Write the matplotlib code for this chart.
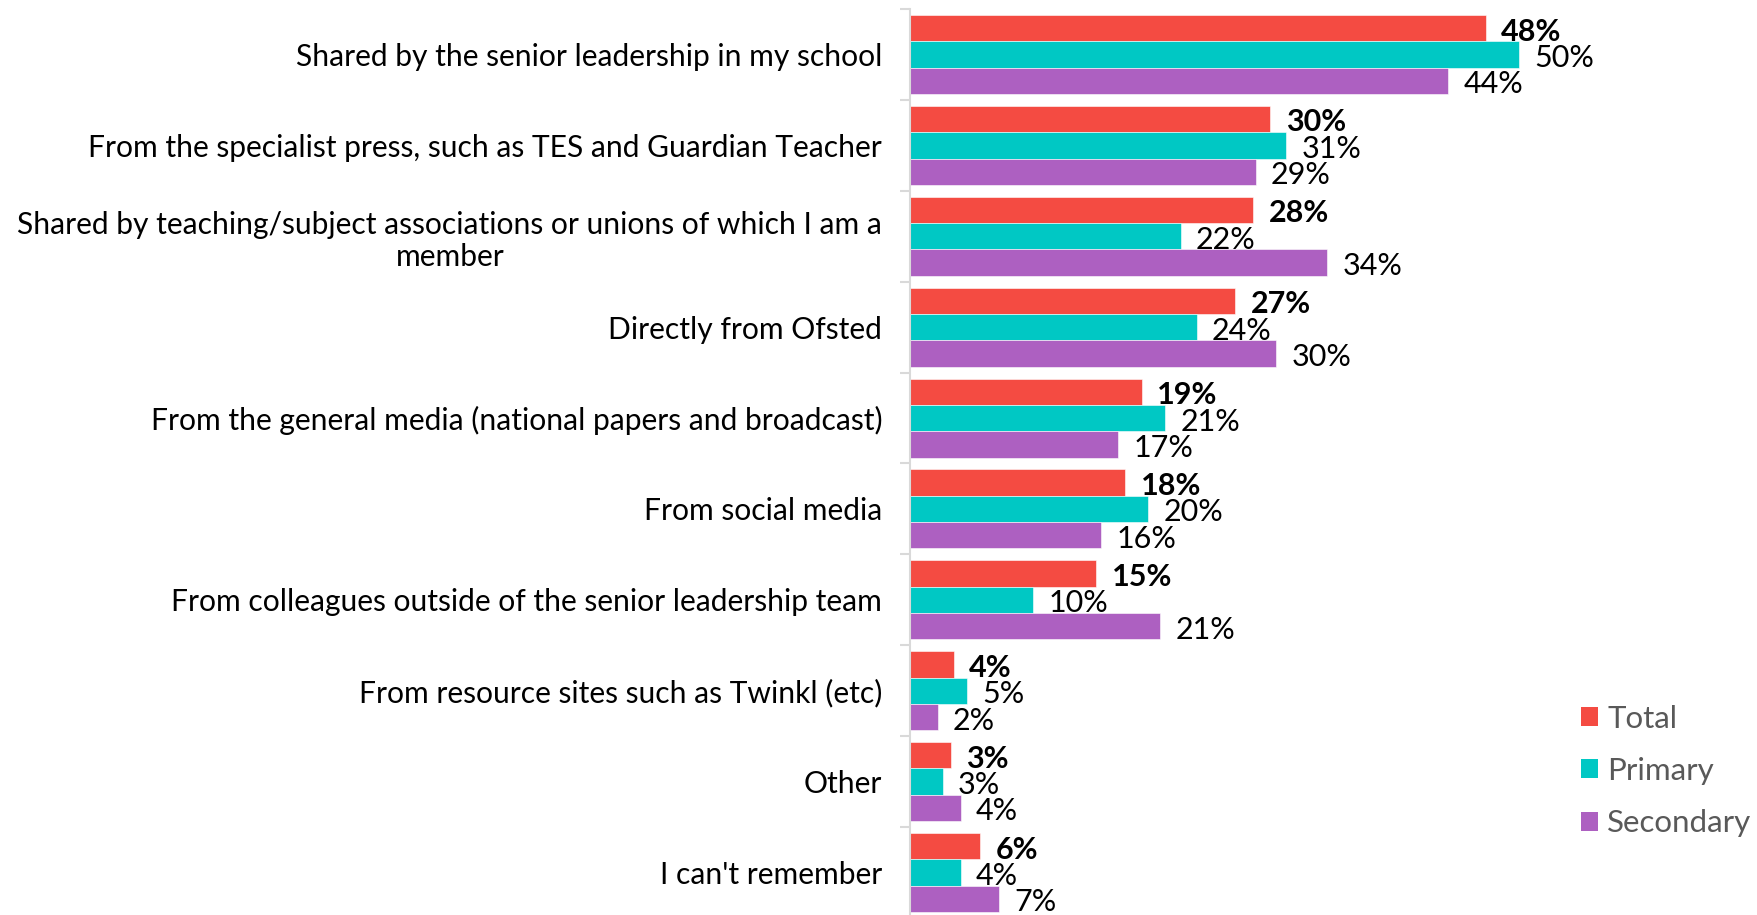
import matplotlib
matplotlib.use("Agg")
import matplotlib.pyplot as plt
from matplotlib.patches import Patch
import numpy as np

categories = [
    "Shared by the senior leadership in my school",
    "From the specialist press, such as TES and Guardian Teacher",
    "Shared by teaching/subject associations or unions of which I am a\nmember",
    "Directly from Ofsted",
    "From the general media (national papers and broadcast)",
    "From social media",
    "From colleagues outside of the senior leadership team",
    "From resource sites such as Twinkl (etc)",
    "Other",
    "I can't remember",
]
total = [47.6, 29.8, 28.4, 26.9, 19.2, 17.8, 15.4, 3.6, 3.4, 5.8]
primary = [50.4, 31.1, 22.4, 23.7, 21.1, 19.7, 10.2, 4.7, 2.7, 4.2]
secondary = [44.5, 28.6, 34.5, 30.3, 17.2, 15.8, 20.7, 2.3, 4.2, 7.4]
series_names = ["Total", "Primary", "Secondary"]
colors = ["#F44B42", "#00C8C4", "#AD60C1"]

plt.rcParams['font.family'] = ['Lato', 'DejaVu Sans']

W, H = 1757, 915
fig = plt.figure(figsize=(W / 100, H / 100), dpi=100)
ax_left, ax_right = 910, 1575
ax_top, ax_bottom = 9, 918
ax = fig.add_axes([ax_left / W, (H - ax_bottom) / H, (ax_right - ax_left) / W, (ax_bottom - ax_top) / H])

n = len(categories)
y = np.arange(n)
bh = 0.29
offsets = [-bh, 0, bh]
for vals, off, col, name in zip([total, primary, secondary], offsets, colors, series_names):
    ax.barh(y + off, vals, height=bh, color=col, edgecolor='white', linewidth=0.4, label=name)
    for yi, v in zip(y, vals):
        ax.annotate(f"{v:.0f}%", xy=(v, yi + off), xytext=(11, -2.5), textcoords='offset points',
                    ha='left', va='center', fontsize=22,
                    fontweight='bold' if name == "Total" else 'normal', color='black')

ax.set_xlim(0, 55)
ax.set_ylim(n - 0.5, -0.5)
ax.set_yticks(y)
ax.set_yticklabels(categories, fontsize=21.6, color='black', linespacing=1.2)
for lab in ax.get_yticklabels():
    lab.set_multialignment('center')
ax.tick_params(axis='y', which='major', length=0, pad=20)
ax.set_yticks(np.arange(-0.5, n, 1), minor=True)
ax.tick_params(axis='y', which='minor', length=7, color='#d9d9d9', width=1.5)
ax.set_xticks([])
for s in ['top', 'right', 'bottom']:
    ax.spines[s].set_visible(False)
ax.spines['left'].set_color('#d9d9d9')
ax.spines['left'].set_linewidth(1.5)

handles = [Patch(facecolor=c, edgecolor='none') for c in colors]
leg = fig.legend(handles, series_names, loc='upper left', bbox_to_anchor=(1568 / W, 1 - 692 / H),
                 frameon=False, fontsize=22.5, handlelength=0.55, handleheight=0.55,
                 handletextpad=0.3, labelspacing=0.78, borderaxespad=0)
for t in leg.get_texts():
    t.set_color('#595959')

fig.savefig("out.png", dpi=100)
